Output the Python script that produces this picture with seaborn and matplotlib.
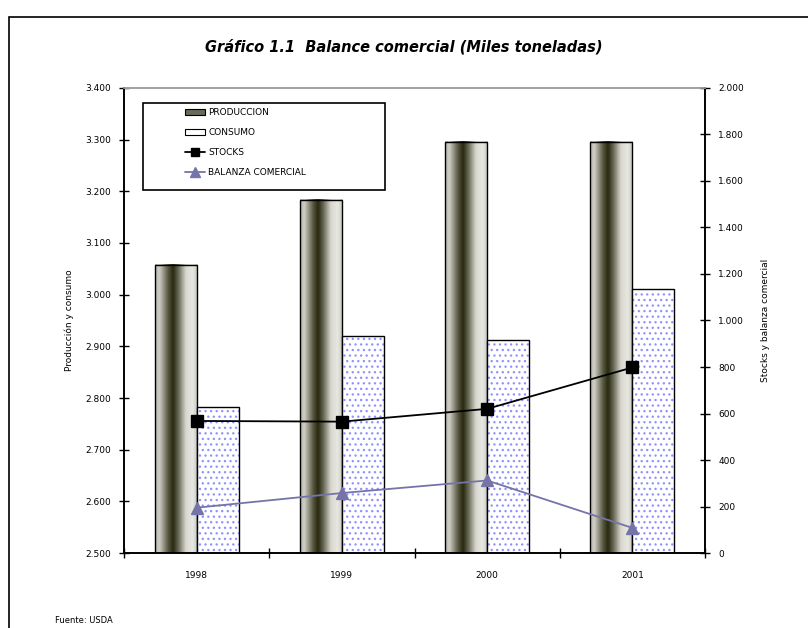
import numpy as np
import pandas as pd
import matplotlib
matplotlib.use('Agg')
import matplotlib.pyplot as plt
import seaborn as sns
from matplotlib.patches import Rectangle, Patch
from matplotlib.lines import Line2D
from matplotlib.colors import LinearSegmentedColormap
from matplotlib.ticker import FuncFormatter, FixedLocator

years = ['1998', '1999', '2000', '2001']
produccion = [3058, 3184, 3296, 3296]
consumo = [2782, 2920, 2912, 3010]
stocks = [568, 565, 620, 798]
balanza = [195, 258, 312, 108]

series_barras = ['PRODUCCION', 'CONSUMO']
series_lineas = ['STOCKS', 'BALANZA COMERCIAL']

sns.set_theme(style='white')
plt.rcParams['font.family'] = ['DejaVu Sans']
plt.rcParams['text.color'] = 'black'
plt.rcParams['axes.labelcolor'] = 'black'
plt.rcParams['xtick.color'] = 'black'
plt.rcParams['ytick.color'] = 'black'
plt.rcParams['hatch.linewidth'] = 0.9

bars = pd.DataFrame({
    'year': years * 2,
    'serie': [series_barras[0]] * 4 + [series_barras[1]] * 4,
    'value': produccion + consumo,
})
lines = pd.DataFrame({
    'year': years * 2,
    'serie': [series_lineas[0]] * 4 + [series_lineas[1]] * 4,
    'value': stocks + balanza,
})

fig = plt.figure(figsize=(8.08, 6.28), dpi=100)
ax = fig.add_axes([0.1535, 0.1194, 0.7190, 0.7405])

sns.barplot(data=bars, x='year', y='value', hue='serie', hue_order=series_barras,
            palette=['#555540', 'white'], width=0.58, gap=0, ax=ax,
            edgecolor='black', linewidth=1.0, legend=False)

ymin, ymax = 2500, 3400
ax.set_ylim(ymin, ymax)

# sombreado tipo cilindro para las barras de produccion
cyl = LinearSegmentedColormap.from_list('cyl', [
    (0.0, '#b0b0a8'), (0.1, '#d0d0c8'), (0.3, '#5a5a44'), (0.42, '#28280e'),
    (0.55, '#6a6a58'), (0.72, '#d8d8d0'), (0.88, '#e8e8e2'), (1.0, '#c4c4bc')])
grad = np.linspace(0, 1, 256).reshape(1, -1)

patches = list(ax.patches)
prod_patches = patches[:4]
cons_patches = patches[4:8]
for p in prod_patches:
    x0, w, h = p.get_x(), p.get_width(), p.get_height()
    im = ax.imshow(grad, cmap=cyl, aspect='auto', extent=[x0, x0 + w, ymin, h],
                   zorder=p.get_zorder() - 0.1, interpolation='bicubic')
    im.set_clip_box(ax.bbox)
    p.set_facecolor('none')
for p in cons_patches:
    p.set_facecolor('white')
    p.set_edgecolor('#9090ff')
    p.set_hatch('...')
    p.set_linewidth(0)
    ax.add_patch(Rectangle((p.get_x(), p.get_y()), p.get_width(), p.get_height(),
                           fill=False, edgecolor='black', lw=1.0, zorder=p.get_zorder() + 0.1))

ax2 = ax.twinx()
sns.pointplot(data=lines, x='year', y='value', hue='serie', hue_order=series_lineas,
              palette=['black', '#7474a8'], markers=['s', '^'], linestyles=['-', '-'],
              markersize=8, linewidth=1.3, errorbar=None, ax=ax2, legend=False)
ax2.set_ylim(0, 2000)
ax.set_ylim(ymin, ymax)
ax.set_xlim(-0.5, 3.5)

fmt = FuncFormatter(lambda v, p: f'{int(round(v)):,}'.replace(',', '.'))
ax.yaxis.set_major_locator(FixedLocator(np.arange(2500, 3401, 100)))
ax2.yaxis.set_major_locator(FixedLocator(np.arange(0, 2001, 200)))
ax.yaxis.set_major_formatter(fmt)
ax2.yaxis.set_major_formatter(fmt)

ax.set_xticks(range(4))
ax.set_xticklabels(years)
ax.set_xticks(np.arange(-0.5, 3.6, 1), minor=True)
ax.tick_params(axis='x', which='major', length=0, labelsize=6.5, pad=13)
ax.tick_params(axis='x', which='minor', length=7, width=1, direction='inout', color='black', bottom=True)
ax.tick_params(axis='y', which='major', length=7, width=1, direction='inout', color='black',
               labelsize=6.5, left=True, pad=6)
ax2.tick_params(axis='y', which='major', length=7, width=1, direction='inout', color='black',
                labelsize=6.5, right=True, pad=6)
ax2.set_xlabel('')
ax.set_xlabel('')

for a in (ax, ax2):
    for s in a.spines.values():
        s.set_color('black')
        s.set_linewidth(1.2)
    a.spines['top'].set_color('#a0a0a0')
    a.grid(False)

ax.set_ylabel('Producción y consumo', fontsize=6.5, labelpad=8)
ax2.set_ylabel('Stocks y balanza comercial', fontsize=6.5, labelpad=12, rotation=90)

# leyenda: marco aparte, contenido desplazado a la derecha como en Excel
ax2.add_patch(Rectangle((0.033, 0.781), 0.416, 0.187, transform=ax2.transAxes,
                        facecolor='white', edgecolor='black', lw=1.2, zorder=9))
handles = [
    Patch(facecolor='#6a6a58', edgecolor='black', lw=0.8),
    Patch(facecolor='white', edgecolor='black', lw=0.8),
    Line2D([], [], color='black', marker='s', markersize=6, lw=1.3),
    Line2D([], [], color='#7474a8', marker='^', markersize=7, lw=1.3),
]
leg = ax2.legend(handles, series_barras + series_lineas, loc='upper left',
                 bbox_to_anchor=(0.1, 0.962), fontsize=6.5, frameon=False,
                 borderpad=0.3, labelspacing=1.2, handlelength=2.2, handletextpad=0.4,
                 borderaxespad=0)
leg.set_zorder(10)

fig.text(0.50, 0.925, 'Gráfico 1.1  Balance comercial (Miles toneladas)',
         ha='center', va='center', fontsize=10.5, fontweight='bold', fontstyle='italic')
fig.text(0.068, 0.004, 'Fuente: USDA', ha='left', va='bottom', fontsize=6)

fig.add_artist(Rectangle((9 / 808, -0.1), 1.2, 1 - 17 / 628 + 0.1, transform=fig.transFigure,
                         fill=False, edgecolor='black', lw=1.2))

fig.savefig('out.png', dpi=100, facecolor='white')
